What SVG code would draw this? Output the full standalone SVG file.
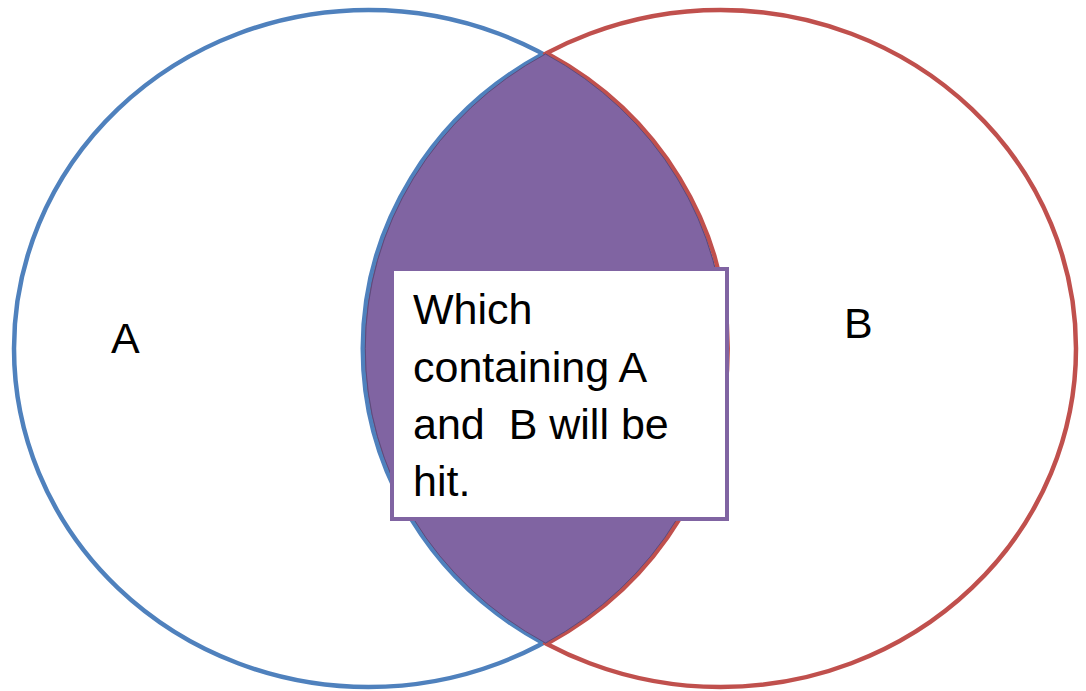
<svg xmlns="http://www.w3.org/2000/svg" width="1086" height="691" viewBox="0 0 1086 691">
<style>
.lbl{font-family:"Liberation Sans",Arial,sans-serif;font-size:43px;fill:#000;white-space:pre}
</style>
<rect width="1086" height="691" fill="#fff"/>
<g id="circleA">
<ellipse cx="368.5" cy="348.5" rx="354.5" ry="338.5" fill="none" stroke="#4F81BD" stroke-width="4.5"/>
</g>
<g id="circleB">
<ellipse cx="720.5" cy="348.5" rx="355.5" ry="338.5" fill="none" stroke="#C0504D" stroke-width="4.5"/>
</g>
<g id="intersection">
<path d="M545.5,54 A355.5,338.5 0 0 0 545.5,643 A354.5,338.5 0 0 0 545.5,54 Z" fill="#8064A2" stroke="#5E4A7C" stroke-width="1"/>
<path d="M545.5,54 A355.5,338.5 0 0 0 545.5,643" fill="none" stroke="#4F81BD" stroke-width="4.5" transform="translate(-2.5,0)"/>
<path d="M545.5,643 A354.5,338.5 0 0 0 545.5,54" fill="none" stroke="#C0504D" stroke-width="4.5" transform="translate(2.5,0)"/>
<path d="M545.5,54 A355.5,338.5 0 0 0 545.5,643 A354.5,338.5 0 0 0 545.5,54 Z" fill="#8064A2" stroke="#5E4A7C" stroke-width="1"/>
</g>
<g id="labelA"><text class="lbl" x="111" y="353">A</text></g>
<g id="labelB"><text class="lbl" x="844" y="338">B</text></g>
<g id="textbox">
<rect x="392" y="269" width="335" height="250" fill="#fff" stroke="#8064A2" stroke-width="4"/>
<text class="lbl" x="413" y="324">Which</text>
<text class="lbl" x="413" y="382">containing A</text>
<text class="lbl" x="413" y="439">and  B will be</text>
<text class="lbl" x="413" y="496">hit.</text>
</g>
<g id="connectors"/>
</svg>
